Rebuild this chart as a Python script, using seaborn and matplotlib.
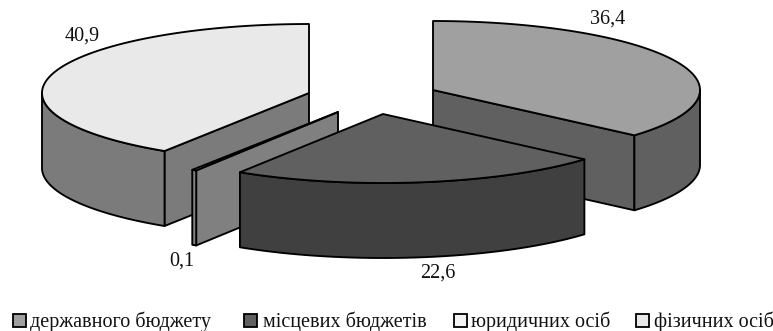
import numpy as np
import matplotlib
matplotlib.use("Agg")
import matplotlib.pyplot as plt
import seaborn as sns
from matplotlib.patches import Rectangle

# shares, %
categories = ["державного бюджету", "місцевих бюджетів", "юридичних осіб", "фізичних осіб"]
values = [36.4, 22.6, 0.1, 40.9]
value_labels = ["36,4", "22,6", "0,1", "40,9"]

top_colors = ["#a0a0a0", "#606060", "#f4f4f4", "#e9e9e9"]
side_colors = ["#606060", "#404040", "#808080", "#7b7b7b"]

# layout, in pixels of the picture
centers = [(433, 90), (383, 114), (338, 112), (309, 93)]
label_pos = [(608, 19.5), (438, 273), (181.5, 261), (82, 36.5)]
legend_sq_x = [12.5, 244, 454, 635.5]
legend_txt_x = [30.5, 263, 471, 654.5]
RX, RY, DEPTH = 267, 69, 75
LW = 1.35
MIN_SWEEP = 1.0  # very thin slices stay visible

sns.set_style("white")
plt.rcParams["font.family"] = ["Liberation Serif", "DejaVu Serif"]

fig, ax = plt.subplots(figsize=(7.73, 3.31), dpi=100)
ax.set_position([0, 0, 1, 1])
ax.set_xlim(0, 773)
ax.set_ylim(331, 0)
ax.axis("off")


def rim(cx, cy, a, b):
    # clockwise from 12 o'clock, degrees
    t = np.radians(np.linspace(a, b, 120))
    return cx + RX * np.sin(t), cy - RY * np.cos(t)


def shape(xs, ys, color, z):
    ax.fill(xs, ys, facecolor=color, edgecolor="black", lw=LW, joinstyle="round", zorder=z)


def radial_face(cx, cy, ang, color, z):
    x, y = rim(cx, cy, ang, ang)
    shape([cx, x[0], x[0], cx], [cy, y[0], y[0] + DEPTH, cy + DEPTH], color, z)


# drawing order: back slices first, the small slices in front
order = [3, 0, 2, 1]
starts = np.cumsum([0] + values[:-1]) * 3.6
ends = np.cumsum(values) * 3.6

for z, i in enumerate(order):
    cx, cy = centers[i]
    a, b = starts[i], ends[i]
    if b - a < MIN_SWEEP:
        mid = (a + b) / 2
        a, b = mid - MIN_SWEEP / 2, mid + MIN_SWEEP / 2
    base = z * 10
    if 180 < a < 360:
        radial_face(cx, cy, a, side_colors[i], base)
    if 0 < b < 180:
        radial_face(cx, cy, b, side_colors[i], base)
    lo, hi = max(a, 90), min(b, 270)
    if lo < hi:
        xs, ys = rim(cx, cy, lo, hi)
        shape(np.r_[xs, xs[::-1]], np.r_[ys, ys[::-1] + DEPTH], side_colors[i], base + 1)
    xs, ys = rim(cx, cy, a, b)
    shape(np.r_[cx, xs], np.r_[cy, ys], top_colors[i], base + 2)

for lab, (x, y) in zip(value_labels, label_pos):
    ax.text(x, y, lab, fontsize=14.5, ha="center", va="center", color="#111111", zorder=100)

for name, col, sx, tx in zip(categories, top_colors, legend_sq_x, legend_txt_x):
    ax.add_patch(Rectangle((sx, 314), 13, 13, facecolor=col, edgecolor="black", lw=1.3, zorder=100))
    ax.text(tx, 327.5, name, fontsize=14.5, ha="left", va="baseline", color="#111111", zorder=100)

fig.savefig("out.png", dpi=100)
